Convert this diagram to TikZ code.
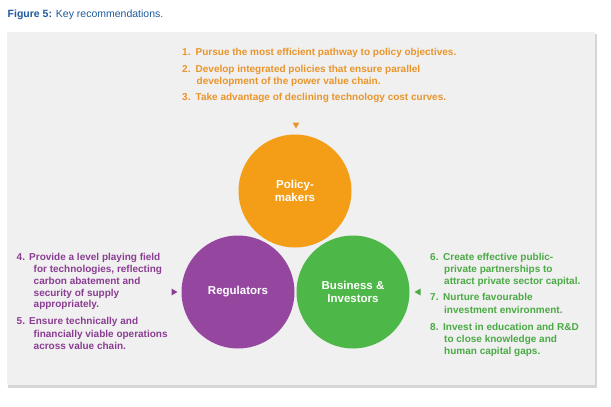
\documentclass[tikz,border=0pt]{standalone}
\usepackage{fontspec}
\setmainfont{Liberation Sans}
\usetikzlibrary{shapes.geometric}
\definecolor{titleblue}{HTML}{1E5A9E}
\definecolor{panel}{HTML}{F0F0F0}
\definecolor{shadow}{HTML}{D6D6D6}
\definecolor{orng}{HTML}{F49D17}
\definecolor{purp}{HTML}{9547A0}
\definecolor{grn}{HTML}{4DB748}
\definecolor{orngtxt}{HTML}{E9952B}
\definecolor{purptxt}{HTML}{8A3D92}
\definecolor{grntxt}{HTML}{4AAA44}
\newcommand{\firstline}{\rule{0pt}{8pt}}
\tikzset{
  circ/.style={circle, minimum size=113pt, inner sep=0pt, text=white, font=\bfseries\fontsize{11.5}{12.5}\selectfont, align=center},
  num/.style={anchor=base west, inner sep=0pt, font=\bfseries\fontsize{10}{12}\selectfont},
  item/.style={anchor=north west, inner sep=0pt, align=left, font=\bfseries\fontsize{10}{12}\selectfont, yshift=8pt},
  tri/.style={regular polygon, regular polygon sides=3, minimum size=8pt, inner sep=0pt},
}
\begin{document}
\begin{tikzpicture}[x=1pt,y=-1pt]
\useasboundingbox (0,0) rectangle (611,407);
\fill[white] (0,0) rectangle (611,407);
\node[anchor=base west, inner sep=0pt, text=titleblue, font=\fontsize{10.5}{12}\selectfont] (title) at (7.5,17) {\textbf{Figure 5:} Key recommendations.};
\fill[shadow] (8,34) rectangle (596.5,387.5);
\fill[panel] (7,31.5) rectangle (594.5,384.5);
% circles
\node[circ, fill=orng] (pm) at (295,191) {Policy-\\makers};
\node[circ, fill=purp] (reg) at (238,292) {Regulators};
\node[circ, fill=grn] (bi) at (353,292) {Business \&\\Investors};
% triangles
\node[tri, fill=orngtxt, shape border rotate=180] (tp) at (296,124.5) {};
\node[tri, fill=purptxt, shape border rotate=-90] (tr) at (173.5,292) {};
\node[tri, fill=grntxt, shape border rotate=90] (tb) at (418.5,292) {};
% top list
\begin{scope}[text=orngtxt]
\node[num] (n1) at (182,55.5) {1.};
\node[item] (i1) at (195.5,55.5) {\firstline Pursue the most efficient pathway to policy objectives.};
\node[num] (n2) at (182,72.5) {2.};
\node[item] (i2) at (195.5,72.5) {\firstline Develop integrated policies that ensure parallel\\[-0.5pt] \hspace*{1pt}development of the power value chain.};
\node[num] (n3) at (182,100.5) {3.};
\node[item] (i3) at (195.5,100.5) {\firstline Take advantage of declining technology cost curves.};
\end{scope}
% left list
\begin{scope}[text=purptxt]
\node[num] (n4) at (16.5,260.5) {4.};
\node[item] (i4) at (29,260.5) {\firstline Provide a level playing field\\ \hspace*{4.5pt}for technologies, reflecting\\ \hspace*{4.5pt}carbon abatement and\\ \hspace*{4.5pt}security of supply\\[-1.5pt] \hspace*{4.5pt}appropriately.};
\node[num] (n5) at (16.5,324.5) {5.};
\node[item] (i5) at (29,324.5) {\firstline Ensure technically and\\[0.5pt] \hspace*{4.5pt}financially viable operations\\[0.5pt] \hspace*{4.5pt}across value chain.};
\end{scope}
% right list
\begin{scope}[text=grntxt]
\node[num] (n6) at (430,260.5) {6.};
\node[item] (i6) at (443,260.5) {\firstline Create effective public-\\ \hspace*{1pt}private partnerships to\\ \hspace*{1pt}attract private sector capital.};
\node[num] (n7) at (430,300.5) {7.};
\node[item] (i7) at (443,300.5) {\firstline Nurture favourable\\[0.5pt] \hspace*{1pt}investment environment.};
\node[num] (n8) at (430,330.5) {8.};
\node[item] (i8) at (443,330.5) {\firstline Invest in education and R\&D\\ \hspace*{1pt}to close knowledge and\\ \hspace*{1pt}human capital gaps.};
\end{scope}
\end{tikzpicture}
\end{document}
